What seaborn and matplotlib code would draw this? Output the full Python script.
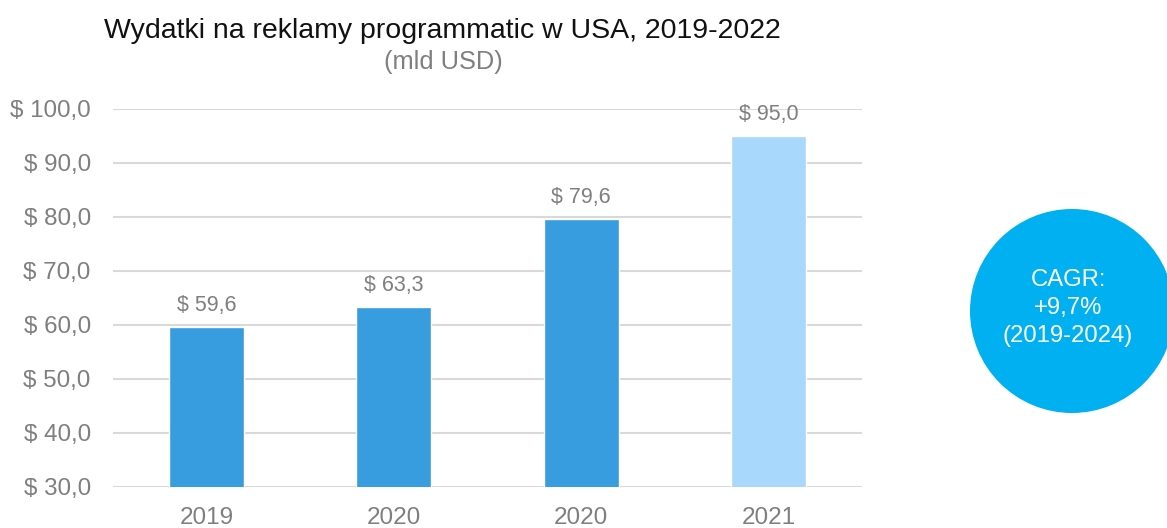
import matplotlib
matplotlib.use("Agg")
import matplotlib.pyplot as plt
from matplotlib.patches import Circle
import seaborn as sns
import pandas as pd

# Chart data
years = ["2019", "2020", "2020", "2021"]
spend = [59.6, 63.3, 79.6, 95.0]
bar_colors = ["#389DDE", "#389DDE", "#389DDE", "#A8D8FC"]
y_ticks = [30, 40, 50, 60, 70, 80, 90, 100]

title = "Wydatki na reklamy programmatic w USA, 2019-2022"
subtitle = "(mld USD)"
cagr_text = "CAGR:\n+9,7%\n(2019-2024)"


def pl_money(v):
    return "$ " + f"{v:.1f}".replace(".", ",")


sns.set_theme(style="white")
plt.rcParams["font.family"] = ["Liberation Sans", "DejaVu Sans"]

df = pd.DataFrame({"pos": list(range(len(years))), "value": spend})

fig = plt.figure(figsize=(11.67, 5.28), dpi=100)
ax = fig.add_axes([0.0968, 0.0777, 0.6418, 0.7159])

sns.barplot(data=df, x="pos", y="value", hue="pos", palette=bar_colors,
            width=0.4, legend=False, ax=ax, zorder=3, saturation=1)

ax.set_ylim(30, 100)
ax.set_xlim(-0.5, len(years) - 0.5)
ax.set_yticks(y_ticks)
ax.set_yticklabels([pl_money(v) for v in y_ticks])
ax.set_xticks(range(len(years)))
ax.set_xticklabels(years)
ax.set_xlabel("")
ax.set_ylabel("")

gray = "#7F7F7F"
ax.tick_params(axis="y", length=0, pad=16, labelsize=17.4, labelcolor=gray)
ax.tick_params(axis="x", length=0, pad=14.5, labelsize=17.5, labelcolor=gray)
for s in ax.spines.values():
    s.set_visible(False)
ax.yaxis.grid(True, color="#D9D9D9", linewidth=1.5, zorder=0)
ax.set_axisbelow(True)

for i, v in enumerate(spend):
    ax.annotate(pl_money(v), xy=(i, v), xytext=(0, 8), textcoords="offset points",
                ha="center", va="bottom", fontsize=15.5, color=gray)

fig.text(442 / 1167, 1 - 31 / 528, title, ha="center", va="center",
         fontsize=20.5, color="#111111")
fig.text(443 / 1167, 1 - 62 / 528, subtitle, ha="center", va="center",
         fontsize=18.3, color=gray)

# CAGR badge
circ_ax = fig.add_axes([0, 0, 1, 1], facecolor="none")
circ_ax.set_xlim(0, 1167)
circ_ax.set_ylim(528, 0)
circ_ax.set_aspect("equal")
circ_ax.axis("off")
circ_ax.add_patch(Circle((1072, 311), 102, color="#00B0F0", lw=0))
circ_ax.text(1068, 308, cagr_text, ha="center", va="center", fontsize=17.2,
             color="white", linespacing=1.38)

fig.savefig("out.png", dpi=100)
